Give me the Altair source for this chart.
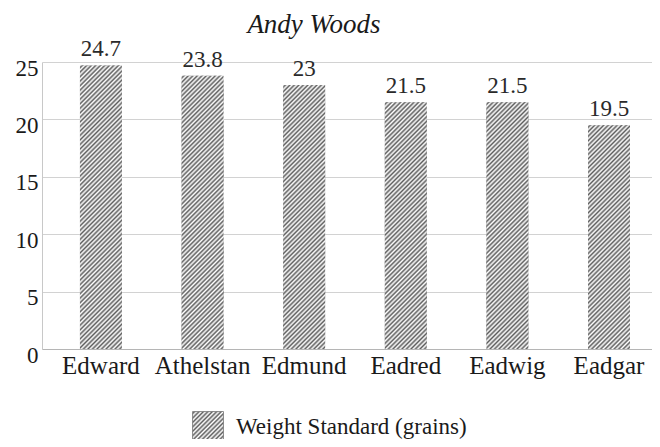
import json
import altair as alt
import pandas as pd

# ---- data ----
kings = ["Edward", "Athelstan", "Edmund", "Eadred", "Eadwig", "Eadgar"]
weights = [24.7, 23.8, 23, 21.5, 21.5, 19.5]
value_labels = ["24.7", "23.8", "23", "21.5", "21.5", "19.5"]
series_name = "Weight Standard (grains)"
y_ticks = [0, 5, 10, 15, 20, 25]
title_text = "Andy Woods"

# ---- layout / style ----
FONT = "'Liberation Serif', 'Times New Roman', 'DejaVu Serif', serif"
PLOT_W, PLOT_H = 610, 287
Y_MAX = 25
PAD_INNER, PAD_OUTER, ALIGN = 0.587, 0.295, 0.633
STEP = PLOT_W / (len(kings) - PAD_INNER + 2 * PAD_OUTER)
BAND = STEP * (1 - PAD_INNER)
PERIOD = 4.5
INK = "#5e5e5e"
PAPER = "#ffffff"


def hatch(w, h):
    """Diagonal '/' hatch as a linear gradient in the mark's bounding box."""
    k = (w + h) / (w * w + h * h)
    n = max(1, round((w + h) / PERIOD))
    stops = []
    for i in range(n):
        stops.append({"offset": round(i / n, 5), "color": PAPER})
        stops.append({"offset": round((i + 0.5) / n, 5), "color": INK})
    stops.append({"offset": 1, "color": PAPER})
    return {"gradient": "linear", "x1": 0, "y1": 0,
            "x2": round(k * w, 5), "y2": round(k * h, 5), "stops": stops}


df = pd.DataFrame({
    "king": kings,
    "weight": weights,
    "label": value_labels,
    "series": [series_name] * len(kings),
})

x_enc = alt.X(
    "king:N", sort=kings,
    scale=alt.Scale(paddingInner=PAD_INNER, paddingOuter=PAD_OUTER, align=ALIGN),
    axis=alt.Axis(title=None, labelAngle=0, ticks=False, labelPadding=4,
                  labelFont=FONT, labelFontSize=25, labelColor="#1a1a1a",
                  domainColor="#b5b5b5", grid=False),
)
y_enc = alt.Y(
    "weight:Q",
    scale=alt.Scale(domain=[0, Y_MAX], nice=False),
    axis=alt.Axis(title=None, values=y_ticks, ticks=False, labelPadding=4,
                  labelOffset=6, labelFont=FONT, labelFontSize=23,
                  labelColor="#1a1a1a", domainColor="#c8c8c8",
                  gridColor="#d2d2d2", gridWidth=1),
)

base = alt.Chart(df)

legend_grad = json.dumps(hatch(31, 31))
legend_layer = base.mark_bar().encode(
    x=x_enc, y=y_enc,
    fill=alt.Fill(
        "series:N",
        scale=alt.Scale(range=[alt.ExprRef(expr=legend_grad)]),
        legend=alt.Legend(
            title=None, orient="none", legendX=150, legendY=349,
            symbolType="square", symbolSize=961, symbolStrokeColor="#777",
            symbolStrokeWidth=0.8, labelFont=FONT, labelFontSize=23,
            labelColor="#1a1a1a", labelOffset=12, labelLimit=400,
        ),
    ),
)

bar_layers = []
for k, w in zip(kings, weights):
    h = w / Y_MAX * PLOT_H
    bar_layers.append(
        base.transform_filter(alt.datum.king == k)
        .mark_bar(fill=hatch(BAND, h))
        .encode(x=x_enc, y=y_enc)
    )

text_layer = base.mark_text(
    baseline="alphabetic", dy=-9, font=FONT, fontSize=23, color="#2a2a2a"
).encode(x=x_enc, y=y_enc, text="label:N")

chart = alt.layer(legend_layer, *bar_layers, text_layer).properties(
    width=PLOT_W, height=PLOT_H,
    autosize=alt.AutoSizeParams(type="none"),
    padding={"left": 34, "top": 54, "right": 0, "bottom": 90},
    title=alt.Title(title_text, font=FONT, fontSize=27, fontStyle="italic",
                    fontWeight="normal", color="#1a1a1a", anchor="middle",
                    dx=-33, offset=0, dy=1),
).configure_view(stroke=None)

chart.save("out.html", embed_options={"renderer": "svg", "actions": False})
